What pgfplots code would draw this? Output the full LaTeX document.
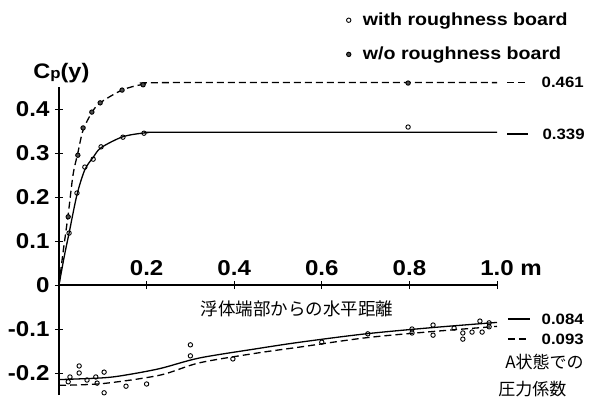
\documentclass[border=0pt]{standalone}
\usepackage{pgfplots}
\pgfplotsset{compat=1.18}
\usepackage{fontspec}
\setmainfont{Liberation Sans}[FakeStretch=1.12]
\newfontfamily\jp{Noto Sans CJK JP}
\begin{document}
\begin{tikzpicture}[x=1pt,y=1pt]
\path[use as bounding box] (0,0) rectangle (599,399);
\begin{axis}[
 at={(59pt,4pt)}, anchor=south west,
 scale only axis, width=438pt, height=308pt,
 xmin=0,xmax=1,ymin=-0.25,ymax=0.45,
 axis lines=middle, axis line style={-, line width=1.2pt},
 clip=false,
 xtick={0.2,0.4,0.6,0.8,1.0},
 xticklabels={0.2,0.4,0.6,0.8,{1.0\rlap{\ m}}},
 ytick={-0.2,-0.1,0,0.1,0.2,0.3,0.4},
 yticklabels={-0.2,-0.1,0,0.1,0.2,0.3,0.4},
 hide obscured x ticks=false, hide obscured y ticks=false,
 tick align=center, major tick length=8pt,
 tick style={line width=1pt, black},
 ticklabel style={font=\bfseries\fontsize{21.5}{22}\selectfont},
 xticklabel style={anchor=south, yshift=10pt},
 yticklabel style={anchor=east, xshift=-2pt},
 legend style={draw=none, fill=none, at={(0.656,1.247)}, anchor=north west,
   font=\bfseries\fontsize{17.5}{18}\selectfont, row sep=16pt, inner sep=0pt,
   /tikz/every odd column/.append style={column sep=10pt}},
 legend cell align=left,
 legend image code/.code={\draw[mark repeat=2,mark phase=2,#1] plot coordinates {(0pt,0pt)(4pt,0pt)(8pt,0pt)};},
]
% positive curves
\addplot[black, line width=1.3pt, smooth, tension=0.5, forget plot] coordinates {
 (0,0)(0.012,0.065)(0.023,0.118)(0.041,0.205)(0.059,0.262)(0.078,0.29)(0.096,0.312)(0.146,0.337)(0.2,0.346)(0.26,0.347)(1.0,0.347)};
\addplot[black, line width=1.3pt, dash pattern=on 7pt off 4pt, smooth, tension=0.5, forget plot] coordinates {
 (0,0)(0.01,0.08)(0.021,0.16)(0.032,0.25)(0.043,0.3)(0.055,0.352)(0.075,0.392)(0.094,0.414)(0.144,0.443)(0.192,0.456)(0.25,0.46)(1.0,0.46)};
% points
\addplot[only marks, mark=o, mark size=2.2pt, line width=0.9pt, black] coordinates {
 (0.023,0.118)(0.041,0.209)(0.059,0.268)(0.078,0.286)(0.096,0.314)(0.146,0.336)(0.194,0.345)(0.797,0.359)};
\addlegendentry{with roughness board}
\addplot[only marks, mark=*, mark size=2.2pt, line width=0.9pt, black, fill=gray!60!black] coordinates {
 (0.021,0.155)(0.043,0.295)(0.055,0.357)(0.075,0.393)(0.094,0.414)(0.144,0.443)(0.192,0.455)(0.797,0.459)};
\addlegendentry{w/o roughness board}
% negative curves
\addplot[black, line width=1.3pt, smooth, tension=0.5, forget plot] coordinates {
 (0,-0.215)(0.1,-0.211)(0.15,-0.205)(0.23,-0.19)(0.32,-0.166)(0.45,-0.145)(0.55,-0.13)(0.7,-0.111)(0.85,-0.097)(1.0,-0.085)};
\addplot[black, line width=1.3pt, dash pattern=on 7pt off 4pt, smooth, tension=0.5, forget plot] coordinates {
 (0,-0.228)(0.1,-0.224)(0.23,-0.205)(0.32,-0.177)(0.45,-0.155)(0.55,-0.141)(0.7,-0.12)(0.85,-0.106)(1.0,-0.094)};
\addplot[only marks, mark=o, mark size=2.2pt, line width=0.9pt, black, forget plot] coordinates {
 (0.021,-0.22)(0.025,-0.209)(0.046,-0.184)(0.046,-0.2)(0.064,-0.216)(0.084,-0.209)(0.087,-0.223)(0.103,-0.198)(0.103,-0.245)(0.153,-0.23)(0.2,-0.225)(0.3,-0.136)(0.3,-0.161)(0.397,-0.168)
 (0.6,-0.13)(0.705,-0.111)(0.806,-0.1)(0.806,-0.109)(0.854,-0.091)(0.854,-0.114)(0.902,-0.098)(0.922,-0.109)(0.922,-0.123)(0.943,-0.107)(0.961,-0.082)(0.966,-0.107)(0.982,-0.086)(0.982,-0.095)};
% key segments at right
\addplot[black, line width=1.3pt, dash pattern=on 7pt off 4pt, forget plot] coordinates {(1.023,0.46)(1.071,0.46)};
\addplot[black, line width=1.3pt, forget plot] coordinates {(1.023,0.343)(1.071,0.343)};
\addplot[black, line width=1.3pt, forget plot] coordinates {(1.025,-0.077)(1.075,-0.077)};
\addplot[black, line width=1.3pt, dash pattern=on 7pt off 4pt, forget plot] coordinates {(1.025,-0.123)(1.075,-0.123)};
% labels
\node[anchor=west, font=\bfseries\fontsize{15}{15}\selectfont] at (axis cs:1.094,0.46) {0.461};
\node[anchor=west, font=\bfseries\fontsize{15}{15}\selectfont] at (axis cs:1.096,0.343) {0.339};
\node[anchor=west, font=\bfseries\fontsize{15}{15}\selectfont] at (axis cs:1.094,-0.077) {0.084};
\node[anchor=west, font=\bfseries\fontsize{15}{15}\selectfont] at (axis cs:1.094,-0.123) {0.093};
\node[anchor=west, font=\jp\fontsize{17}{17}\selectfont] at (axis cs:1.011,-0.175) {A状態での};
\node[anchor=west, font=\jp\fontsize{17}{17}\selectfont] at (axis cs:0.995,-0.236) {圧力係数};
\node[font=\jp\fontsize{17.5}{17.5}\selectfont] at (axis cs:0.543,-0.055) {浮体端部からの水平距離};
\node[anchor=base west, font=\bfseries\fontsize{21}{21}\selectfont, inner sep=0pt] at (axis cs:-0.059,0.47) {C{\fontsize{15}{15}\selectfont p}(y)};
\end{axis}
\end{tikzpicture}
\end{document}
